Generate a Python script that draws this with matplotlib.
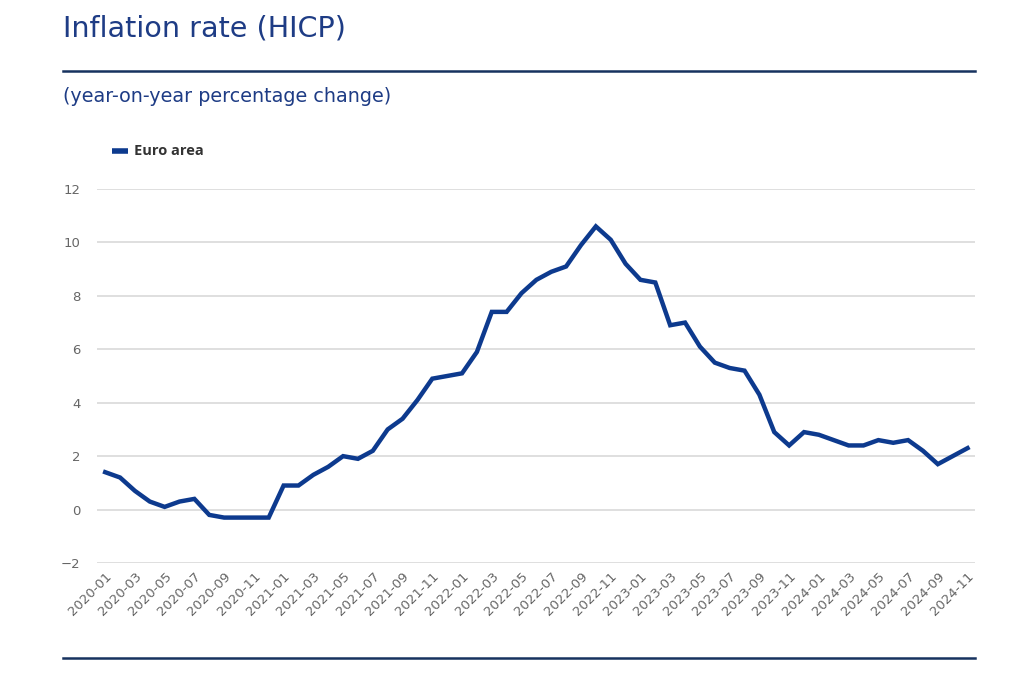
import matplotlib
matplotlib.use("Agg")
import matplotlib.pyplot as plt
from matplotlib.lines import Line2D

plt.rcParams['font.family'] = ['DejaVu Sans']

months = [f"{y}-{m:02d}" for y in range(2020, 2025) for m in range(1, 13)][:59]
euro_area = [
    1.4, 1.2, 0.7, 0.3, 0.1, 0.3, 0.4, -0.2, -0.3, -0.3, -0.3, -0.3,
    0.9, 0.9, 1.3, 1.6, 2.0, 1.9, 2.2, 3.0, 3.4, 4.1, 4.9, 5.0,
    5.1, 5.9, 7.4, 7.4, 8.1, 8.6, 8.9, 9.1, 9.9, 10.6, 10.1, 9.2,
    8.6, 8.5, 6.9, 7.0, 6.1, 5.5, 5.3, 5.2, 4.3, 2.9, 2.4, 2.9,
    2.8, 2.6, 2.4, 2.4, 2.6, 2.5, 2.6, 2.2, 1.7, 2.0, 2.3,
]
y_ticks = [-2, 0, 2, 4, 6, 8, 10, 12]

title = "Inflation rate (HICP)"
subtitle = "(year-on-year percentage change)"
series_name = "Euro area"

W, H = 1022, 675
fig = plt.figure(figsize=(W / 100, H / 100), dpi=100)
fig.patch.set_facecolor("white")

blue = "#0d3a8e"
title_col = "#1e3c85"
navy = "#17325f"

ax = fig.add_axes([97 / W, (H - 563) / H, (975 - 97) / W, (563 - 189) / H])
x = list(range(len(months)))
ax.plot(x, euro_area, color=blue, lw=3.2, solid_joinstyle="miter", zorder=3)
ax.set_xlim(-0.55, len(months) - 1 + 0.5)
ax.set_ylim(-2, 12)
ax.set_yticks(y_ticks)
ax.set_yticklabels([("\u2212" + str(-v)) if v < 0 else str(v) for v in y_ticks])
ax.yaxis.grid(True, color="#d9d9d9", lw=1.2)
ax.set_axisbelow(True)
for s in ax.spines.values():
    s.set_visible(False)
ax.tick_params(axis="y", length=0, pad=12, labelsize=9.5, labelcolor="#666666")
ax.tick_params(axis="x", length=0, pad=5, labelsize=9.5, labelcolor="#666666")
xt = x[::2]
ax.set_xticks(xt)
ax.set_xticklabels([months[i] for i in xt], rotation=45, ha="right", va="top",
                   rotation_mode="anchor")

# Title and rules
fig.text(63 / W, 1 - 28 / H, title, fontsize=20.6, color=title_col, va="center", ha="left")
fig.add_artist(Line2D([63 / W, 975 / W], [1 - 71 / H] * 2, color=navy, lw=1.8))
fig.text(63 / W, 1 - 96 / H, subtitle, fontsize=13.8, color=title_col, va="center", ha="left")
fig.add_artist(Line2D([63 / W, 975 / W], [1 - 658 / H] * 2, color=navy, lw=1.8))

# Legend
fig.add_artist(Line2D([112 / W, 128 / W], [1 - 151 / H] * 2, color=blue, lw=4, solid_capstyle="butt"))
fig.text(134 / W, 1 - 151 / H, series_name, fontsize=10.5, fontweight="bold",
         family=["Open Sans", "DejaVu Sans"], color="#333333", va="center", ha="left")

fig.savefig("out.png", dpi=100)
